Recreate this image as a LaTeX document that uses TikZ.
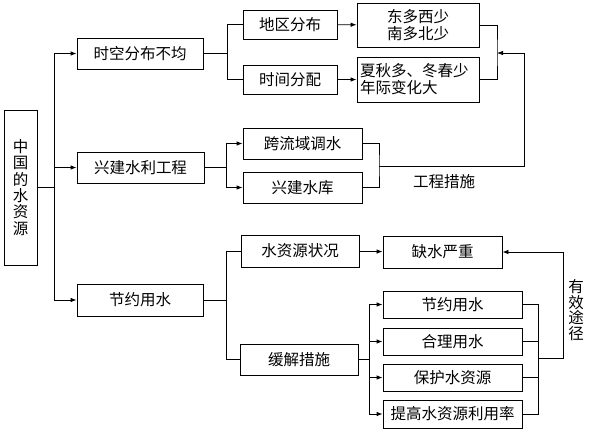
\documentclass[tikz,border=0pt]{standalone}
\usepackage{fontspec}
\newfontfamily\cjk{Noto Sans CJK SC}
\usetikzlibrary{arrows.meta}
\begin{document}
\begin{tikzpicture}[x=1pt,y=-1pt,
  every node/.style={font=\cjk\fontsize{15.5}{17}\selectfont},
  box/.style={draw,line width=0.8pt,inner sep=0pt,align=center},
  ln/.style={line width=0.8pt},
  arr/.style={line width=0.8pt,-{Latex[length=6pt,width=4.5pt]}},
  lbl/.style={inner sep=0pt,align=center}]
\useasboundingbox (0,0) rectangle (590,437);
\fill[white] (0,0) rectangle (590,437);
% nodes
\node[box,minimum width=33pt,minimum height=155pt,font=\cjk\fontsize{15.5}{16.4}\selectfont] (root) at (20.5,187.5) {中\\国\\的\\水\\资\\源};
\node[box,minimum width=126pt,minimum height=31pt] (b1) at (140,53.5) {时空分布不均};
\node[box,minimum width=127pt,minimum height=31pt] (b2) at (140.5,167.5) {兴建水利工程};
\node[box,minimum width=126pt,minimum height=32pt] (b3) at (140,300) {节约用水};
\node[box,minimum width=94pt,minimum height=29pt] (c1) at (290,24.5) {地区分布};
\node[box,minimum width=94pt,minimum height=29pt] (c2) at (290,79.5) {时间分配};
\node[box,minimum width=122pt,minimum height=44pt,font=\cjk\fontsize{15.5}{17}\selectfont] (d1) at (418,25) {东多西少\\南多北少};
\node[box,minimum width=122pt,minimum height=45pt,text width=116pt,align=left,font=\cjk\fontsize{15.5}{17}\selectfont] (d2) at (418,79.5) {夏秋多、冬春少\\年际变化大};
\node[box,minimum width=119pt,minimum height=31pt] (e1) at (302.5,143.5) {跨流域调水};
\node[box,minimum width=119pt,minimum height=31pt] (e2) at (302.5,187.5) {兴建水库};
\node[lbl] (t1) at (444,182) {工程措施};
\node[box,minimum width=118pt,minimum height=32pt] (f1) at (300,251) {水资源状况};
\node[box,minimum width=118pt,minimum height=31pt] (f2) at (299,359.5) {缓解措施};
\node[box,minimum width=119pt,minimum height=32pt] (g1) at (442.5,252) {缺水严重};
\node[box,minimum width=139pt,minimum height=27pt] (h1) at (452.5,304.5) {节约用水};
\node[box,minimum width=139pt,minimum height=27pt] (h2) at (452.5,341.5) {合理用水};
\node[box,minimum width=139pt,minimum height=27pt] (h3) at (452.5,377.5) {保护水资源};
\node[box,minimum width=139pt,minimum height=28pt] (h4) at (452.5,414) {提高水资源利用率};
\node[lbl,font=\cjk\fontsize{15.5}{15.5}\selectfont] (t2) at (576,310) {有\\效\\途\\径};
% junctions
\coordinate (j1) at (54,187.5);
\coordinate (k1) at (227,53.5);
\coordinate (k2) at (226,167.5);
\coordinate (k3) at (226,300);
\coordinate (m1) at (497,53);
\coordinate (fb1) at (524,53);
\coordinate (n1) at (379,166);
\coordinate (k4) at (369,359.5);
\coordinate (m2) at (538,358);
\coordinate (fb2) at (563,252);
% connectors
\draw[ln] (root.east) -- (j1);
\draw[arr] (j1) |- (b1.west);
\draw[arr] (j1) |- (b2.west);
\draw[arr] (j1) |- (b3.west);
\draw[ln] (b1.east) -- (k1);
\draw[ln] (k1) |- (c1.west);
\draw[ln] (k1) |- (c2.west);
\draw[arr] (c1) -- (d1);
\draw[arr] (c2.east) -- (d2.west);
\draw[ln] (d1.east) -| (m1) |- (d2.east);
\draw[arr] (n1) -| (fb1) -- (m1);
\draw[ln] (b2.east) -- (k2);
\draw[arr] (k2) |- (e1.west);
\draw[arr] (k2) |- (e2.west);
\draw[ln] (e1.east) -| (n1) |- (e2.east);
\draw[ln] (b3.east) -- (k3);
\draw[ln] (k3) |- (f1.west);
\draw[ln] (k3) |- (f2.west);
\draw[arr] (f1) -- (g1);
\draw[ln] (f2.east) -- (k4);
\draw[arr] (k4) |- (h1.west);
\draw[arr] (k4) |- (h2.west);
\draw[arr] (k4) |- (h3.west);
\draw[arr] (k4) |- (h4.west);
\draw[ln] (h1.east) -| (m2);
\draw[ln] (h2.east) -| (m2);
\draw[ln] (h3.east) -| (m2);
\draw[ln] (h4.east) -| (m2);
\draw[arr] (m2) -| (fb2) -- (g1.east);
\end{tikzpicture}
\end{document}
